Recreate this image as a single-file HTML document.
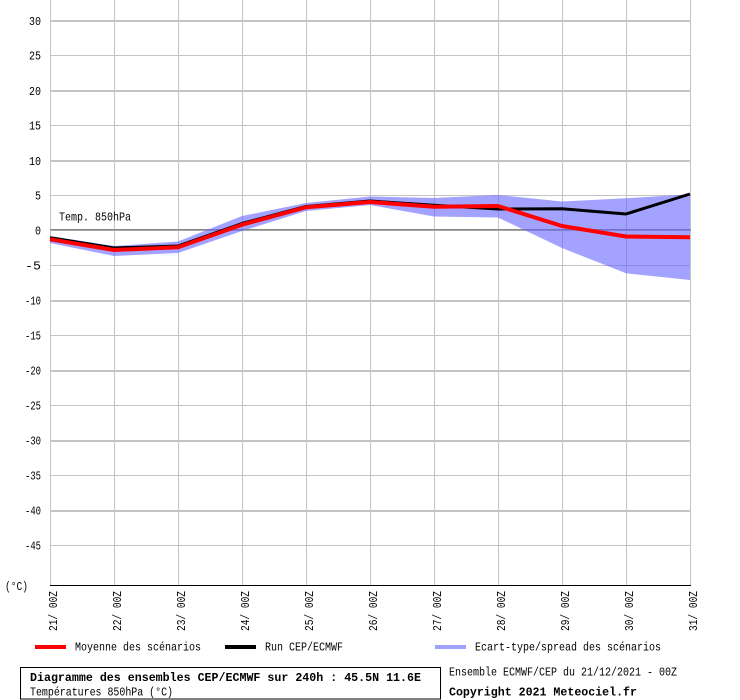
<!DOCTYPE html>
<html>
<head>
<meta charset="utf-8">
<style>
html,body{margin:0;padding:0;background:#fff;}
svg{display:block;}
text{font-family:"Liberation Mono","DejaVu Sans Mono",monospace;fill:#000;}
</style>
</head>
<body>
<svg width="740" height="700" viewBox="0 0 740 700" xmlns="http://www.w3.org/2000/svg">
<rect x="0" y="0" width="740" height="700" fill="#fff"/>

<!-- vertical grid -->
<g fill="#c4c4c4">
<rect x="50" y="0" width="1" height="585"/>
<rect x="114" y="0" width="1" height="585"/>
<rect x="178" y="0" width="1" height="585"/>
<rect x="242" y="0" width="1" height="585"/>
<rect x="306" y="0" width="1" height="585"/>
<rect x="370" y="0" width="1" height="585"/>
<rect x="434" y="0" width="1" height="585"/>
<rect x="498" y="0" width="1" height="585"/>
<rect x="562" y="0" width="1" height="585"/>
<rect x="626" y="0" width="1" height="585"/>
<rect x="690" y="0" width="1" height="585"/>
</g>
<!-- horizontal grid -->
<g fill="#c4c4c4">
<rect x="50" y="20" width="641" height="2"/>
<rect x="50" y="55" width="641" height="1"/>
<rect x="50" y="90" width="641" height="2"/>
<rect x="50" y="125" width="641" height="1"/>
<rect x="50" y="160" width="641" height="2"/>
<rect x="50" y="195" width="641" height="1"/>
<rect x="50" y="265" width="641" height="1"/>
<rect x="50" y="300" width="641" height="2"/>
<rect x="50" y="335" width="641" height="1"/>
<rect x="50" y="370" width="641" height="2"/>
<rect x="50" y="405" width="641" height="1"/>
<rect x="50" y="440" width="641" height="2"/>
<rect x="50" y="475" width="641" height="1"/>
<rect x="50" y="510" width="641" height="2"/>
<rect x="50" y="545" width="641" height="1"/>
</g>
<!-- zero line -->
<rect x="50" y="229" width="641" height="1" fill="#858585"/>
<rect x="50" y="230" width="641" height="1" fill="#a8a8a8"/>

<!-- bottom axis -->
<rect x="50" y="585" width="641" height="1" fill="#000"/>

<!-- y labels -->
<g font-size="12" text-anchor="end">
<text x="41" y="25" textLength="12" lengthAdjust="spacingAndGlyphs">30</text>
<text x="41" y="59.5" textLength="12" lengthAdjust="spacingAndGlyphs">25</text>
<text x="41" y="95" textLength="12" lengthAdjust="spacingAndGlyphs">20</text>
<text x="41" y="129.5" textLength="12" lengthAdjust="spacingAndGlyphs">15</text>
<text x="41" y="165" textLength="12" lengthAdjust="spacingAndGlyphs">10</text>
<text x="41" y="199.5" textLength="6" lengthAdjust="spacingAndGlyphs">5</text>
<text x="41" y="234.5" textLength="6" lengthAdjust="spacingAndGlyphs">0</text>
<text x="41" y="269.5" textLength="16" lengthAdjust="spacingAndGlyphs">-5</text>
<text x="41" y="304.5" textLength="16" lengthAdjust="spacingAndGlyphs">-10</text>
<text x="41" y="339.5" textLength="16" lengthAdjust="spacingAndGlyphs">-15</text>
<text x="41" y="374.5" textLength="16" lengthAdjust="spacingAndGlyphs">-20</text>
<text x="41" y="409.5" textLength="16" lengthAdjust="spacingAndGlyphs">-25</text>
<text x="41" y="444.5" textLength="16" lengthAdjust="spacingAndGlyphs">-30</text>
<text x="41" y="479.5" textLength="16" lengthAdjust="spacingAndGlyphs">-35</text>
<text x="41" y="514.5" textLength="16" lengthAdjust="spacingAndGlyphs">-40</text>
<text x="41" y="549.5" textLength="16" lengthAdjust="spacingAndGlyphs">-45</text>
</g>
<text x="5" y="590" font-size="12" textLength="23" lengthAdjust="spacingAndGlyphs">(°C)</text>

<!-- x labels -->
<g font-size="12">
<text transform="translate(57,631) rotate(-90)" textLength="40" lengthAdjust="spacingAndGlyphs">21/ 00Z</text>
<text transform="translate(121,631) rotate(-90)" textLength="40" lengthAdjust="spacingAndGlyphs">22/ 00Z</text>
<text transform="translate(185,631) rotate(-90)" textLength="40" lengthAdjust="spacingAndGlyphs">23/ 00Z</text>
<text transform="translate(249,631) rotate(-90)" textLength="40" lengthAdjust="spacingAndGlyphs">24/ 00Z</text>
<text transform="translate(313,631) rotate(-90)" textLength="40" lengthAdjust="spacingAndGlyphs">25/ 00Z</text>
<text transform="translate(377,631) rotate(-90)" textLength="40" lengthAdjust="spacingAndGlyphs">26/ 00Z</text>
<text transform="translate(441,631) rotate(-90)" textLength="40" lengthAdjust="spacingAndGlyphs">27/ 00Z</text>
<text transform="translate(505,631) rotate(-90)" textLength="40" lengthAdjust="spacingAndGlyphs">28/ 00Z</text>
<text transform="translate(569,631) rotate(-90)" textLength="40" lengthAdjust="spacingAndGlyphs">29/ 00Z</text>
<text transform="translate(633,631) rotate(-90)" textLength="40" lengthAdjust="spacingAndGlyphs">30/ 00Z</text>
<text transform="translate(697,631) rotate(-90)" textLength="40" lengthAdjust="spacingAndGlyphs">31/ 00Z</text>
</g>

<!-- spread band -->
<polygon fill="#6666ff" fill-opacity="0.6" points="50,236 114,246 178,241.5 242,216 306,203 370,196.5 434,198 498,195 562,201.5 626,198.3 690,194.3 690,280 626,273.3 562,248 498,217.5 434,216.5 370,205 306,211 242,231 178,253 114,256 50,243"/>

<!-- run line -->
<polyline fill="none" stroke="#000" stroke-width="3" stroke-linejoin="round" points="50,237.7 114,248 178,246 242,223.5 306,206.5 370,201 434,205.3 498,209 562,208.7 626,214 690,194"/>
<!-- mean line -->
<polyline fill="none" stroke="#ff0000" stroke-width="4" stroke-linejoin="round" points="50,239.3 114,250 178,247.3 242,224.7 306,207.3 370,202 434,206.7 498,206 562,226 626,236.5 690,237.3"/>

<text x="59" y="220.5" font-size="12" textLength="72" lengthAdjust="spacingAndGlyphs">Temp. 850hPa</text>

<!-- legend -->
<rect x="35" y="645" width="31" height="4" fill="#ff0000"/>
<text x="75" y="650.5" font-size="12" textLength="126" lengthAdjust="spacingAndGlyphs">Moyenne des scénarios</text>
<rect x="225" y="645" width="31" height="4" fill="#000"/>
<text x="265" y="650.5" font-size="12" textLength="78" lengthAdjust="spacingAndGlyphs">Run CEP/ECMWF</text>
<rect x="435" y="645" width="31" height="4" fill="#a0a0ff"/>
<text x="475" y="650.5" font-size="12" textLength="186" lengthAdjust="spacingAndGlyphs">Ecart-type/spread des scénarios</text>

<!-- info box -->
<rect x="20.5" y="667.5" width="420" height="31.5" fill="none" stroke="#000" stroke-width="1"/>
<text x="30" y="681" font-size="12.2" font-weight="bold" textLength="391" lengthAdjust="spacingAndGlyphs">Diagramme des ensembles CEP/ECMWF sur 240h : 45.5N 11.6E</text>
<text x="30" y="695.5" font-size="12" textLength="143" lengthAdjust="spacingAndGlyphs">Températures 850hPa (°C)</text>
<text x="449" y="675.5" font-size="12" textLength="228" lengthAdjust="spacingAndGlyphs">Ensemble ECMWF/CEP du 21/12/2021 - 00Z</text>
<text x="449" y="695.5" font-size="12.2" font-weight="bold" textLength="188" lengthAdjust="spacingAndGlyphs">Copyright 2021 Meteociel.fr</text>
</svg>
</body>
</html>
